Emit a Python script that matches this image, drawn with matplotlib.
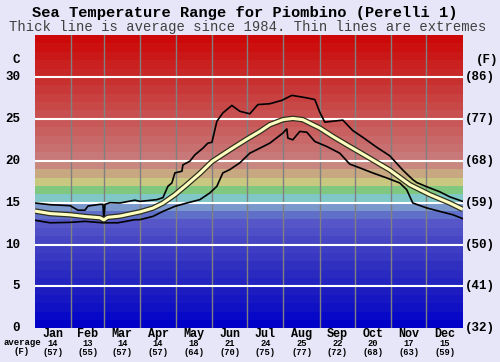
import numpy as np
import matplotlib
matplotlib.use("Agg")
import matplotlib.pyplot as plt

# Dados (dia do ano, temperatura em C)
dias_media = [0, 12.8, 29.9, 42.6, 55.4, 58.8, 62, 72.5, 89.5, 100.6, 109.2, 119.4,
              129.6, 140.7, 151, 166.3, 181, 191.9, 200.4, 211.5, 220, 228.6,
              237.1, 243, 254.1, 266.1, 277.2, 285.7, 302.7, 319.8, 336.9, 353.9, 365]
temp_media = [14.0, 13.7, 13.55, 13.35, 13.2, 12.95, 13.25, 13.4, 13.9, 14.35, 14.95, 15.95,
              17.15, 18.5, 19.9, 21.3, 22.6, 23.5, 24.3, 24.9, 25.05, 24.9,
              24.3, 23.9, 22.9, 21.9, 21.0, 20.3, 18.9, 17.15, 15.96, 14.96, 14.2]

dias_max = [0, 12.8, 29.9, 36.7, 42.6, 45.2, 55.4, 58, 58.8, 59.7, 64, 72.5, 85.3,
            89.5, 104, 109.2, 113.4, 116.8, 119.4, 125.4, 126.2, 132.2, 136.4, 143.3,
            147.5, 151, 155.2, 160.3, 168, 174.8, 183.3, 190.2, 200.4, 210.6, 219.2,
            232, 238.8, 243, 247.3, 262.7, 271.2, 279.7, 291.7, 302.7, 313.8, 322.4,
            325.8, 334.3, 345.4, 353.9, 365]
temp_max = [14.96, 14.76, 14.64, 14.1, 14.1, 14.6, 14.8, 14.8, 12.8, 14.8, 15.0, 14.96, 15.3,
            15.15, 15.36, 15.6, 16.95, 17.35, 18.55, 18.75, 19.5, 19.95, 20.7, 21.5,
            22.1, 22.2, 24.7, 25.7, 26.6, 25.9, 25.6, 26.7, 26.8, 27.2, 27.8,
            27.5, 27.3, 25.8, 24.6, 24.85, 23.6, 22.8, 21.6, 20.6, 18.9, 17.75,
            17.4, 16.9, 16.3, 15.7, 15.15]

dias_min = [0, 12.8, 29.9, 42.6, 58, 70.8, 85.3, 89.5, 100.6, 109.2, 119.4, 129.6,
            140.7, 149.2, 155.2, 160.3, 166.3, 174.8, 183.3, 191.9, 200.4, 211.5,
            214.9, 215.8, 220, 226, 232, 238.8, 249, 260.1, 268.6, 277.2, 288.2,
            300.2, 311.3, 317.2, 322.4, 334.3, 345.4, 356.5, 365]
temp_min = [12.9, 12.6, 12.65, 12.77, 12.6, 12.6, 12.97, 12.97, 13.36, 13.96, 14.56, 14.96,
            15.36, 16.16, 16.95, 18.55, 18.95, 19.75, 20.9, 21.5, 22.1, 23.3,
            23.8, 22.7, 22.5, 23.5, 23.4, 22.3, 21.7, 20.9, 19.6, 19.15, 18.55,
            17.95, 17.35, 16.55, 14.96, 14.37, 13.96, 13.56, 13.1]

meses = ['Jan', 'Feb', 'Mar', 'Apr', 'May', 'Jun', 'Jul', 'Aug', 'Sep', 'Oct', 'Nov', 'Dec']
dias_mes = [31, 28, 31, 30, 31, 30, 31, 31, 30, 31, 30, 31]
media_c = [14, 13, 14, 14, 18, 21, 24, 25, 22, 20, 17, 15]
media_f = [57, 55, 57, 57, 64, 70, 75, 77, 72, 68, 63, 59]

ticks_c = [0, 5, 10, 15, 20, 25, 30]
ticks_f = [32, 41, 50, 59, 68, 77, 86]

# Cores das faixas de 1 grau (0 a 35 C)
cores_faixas = [
    '#0000c8', '#0808c8', '#1010c4', '#1616c2', '#1c1cc0',
    '#2424c0', '#2a2ac0', '#3030c0', '#3838c2', '#3e3ec4',
    '#4646c4', '#4e4ec6', '#5656c8', '#6070c8', '#7a98cc',
    '#80c8c8', '#80c880', '#c8c880', '#c8a880', '#c88880',
    '#c87878', '#c87070', '#c86868', '#c86060', '#c85858',
    '#c85050', '#c84848', '#c84040', '#c83838', '#c83030',
    '#c82828', '#ca2020', '#ca1818', '#cc1010', '#cc0808',
]

FUNDO = '#e6e6f8'
FONTE = 'Liberation Mono'

fig = plt.figure(figsize=(5.0, 3.62), dpi=100, facecolor=FUNDO)
ax = fig.add_axes([0.07, 0.0928, 0.8554, 0.8105])
ax.set_xlim(0, 365)
ax.set_ylim(0, 35)

# Faixas coloridas de fundo
for i, cor in enumerate(cores_faixas):
    ax.axhspan(i, i + 1, color=cor, lw=0, zorder=0)

# Grade
limites = np.cumsum(dias_mes)
for d in limites[:-1]:
    ax.axvline(d, color='#808080', lw=1, zorder=1)
for t in ticks_c[1:]:
    ax.axhline(t, color='white', lw=1.5, zorder=1)

# Linhas de extremos e média
ax.plot(dias_max, temp_max, color='black', lw=1.2, zorder=3)
ax.plot(dias_min, temp_min, color='black', lw=1.2, zorder=3)
ax.plot(dias_media, temp_media, color='#303020', lw=4, solid_capstyle='butt', zorder=4)
ax.plot(dias_media, temp_media, color='#ffffc0', lw=2.2, solid_capstyle='butt', zorder=5)

for s in ax.spines.values():
    s.set_visible(False)
ax.set_xticks([])
ax.set_yticks([])

# Rótulos dos eixos
for t in ticks_c:
    ax.text(-0.035, t, str(t), transform=ax.get_yaxis_transform(), ha='right', va='center',
            fontsize=9, fontweight='bold', family=FONTE)
for t, f in zip(ticks_c, ticks_f):
    ax.text(1.005, t, '(%d)' % f, transform=ax.get_yaxis_transform(), ha='left', va='center',
            fontsize=9, fontweight='bold', family=FONTE)
ax.text(-0.035, 32.0, 'C', transform=ax.get_yaxis_transform(), ha='right', va='center',
        fontsize=9, fontweight='bold', family=FONTE)
ax.text(1.03, 32.0, '(F)', transform=ax.get_yaxis_transform(), ha='left', va='center',
        fontsize=9, fontweight='bold', family=FONTE)

centros = limites - np.array(dias_mes) / 2
for c, m, mc, mf in zip(centros, meses, media_c, media_f):
    ax.text(c, -0.018, m, transform=ax.get_xaxis_transform(), ha='center', va='center',
            fontsize=8.5, fontweight='bold', family=FONTE)
    ax.text(c, -0.05, str(mc), transform=ax.get_xaxis_transform(), ha='center', va='center',
            fontsize=6.3, fontweight='bold', family=FONTE)
    ax.text(c, -0.081, '(%d)' % mf, transform=ax.get_xaxis_transform(), ha='center', va='center',
            fontsize=6.3, fontweight='bold', family=FONTE)
fig.text(0.045, 1 - 342.7 / 362, 'average', ha='center', va='center',
         fontsize=6.5, fontweight='bold', family=FONTE)
fig.text(0.044, 1 - 352 / 362, '(F)', ha='center', va='center',
         fontsize=6.5, fontweight='bold', family=FONTE)

# Títulos
fig.text(0.49, 1 - 13 / 362, 'Sea Temperature Range for Piombino (Perelli 1)',
         ha='center', va='center', fontsize=11.1, fontweight='bold', family=FONTE)
fig.text(0.496, 1 - 27 / 362, 'Thick line is average since 1984. Thin lines are extremes',
         ha='center', va='center', fontsize=10, color='#404040', family=FONTE)

fig.savefig('out.png', dpi=100, facecolor=FUNDO)
